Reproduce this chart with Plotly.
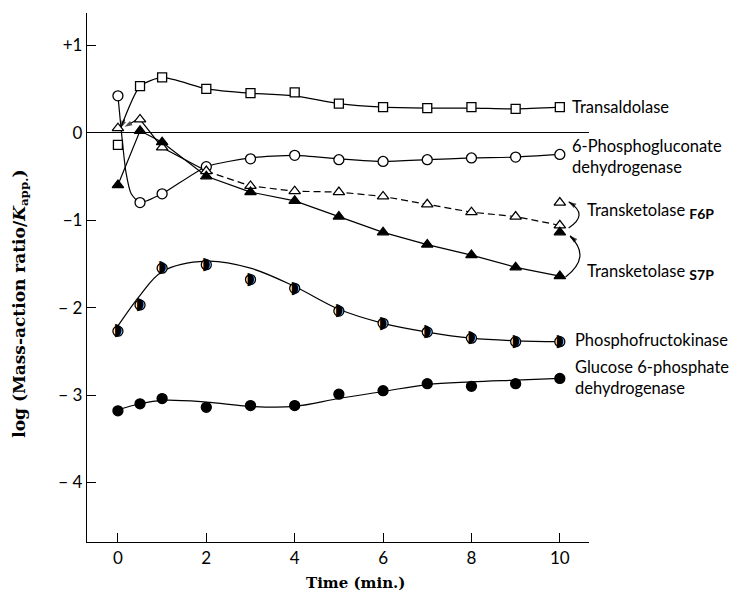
import plotly.graph_objects as go

# ---- data ----
time_min = [0, 0.5, 1, 2, 3, 4, 5, 6, 7, 8, 9, 10]

transaldolase = [-0.14, 0.53, 0.63, 0.50, 0.45, 0.46, 0.33, 0.29, 0.28, 0.29, 0.27, 0.29]
transaldolase_curve_t = [0.06, 0.5, 1, 2, 3, 4, 5, 6, 7, 8, 9, 10]
transaldolase_curve_y = [0.05, 0.53, 0.63, 0.50, 0.45, 0.42, 0.33, 0.29, 0.28, 0.28, 0.27, 0.29]

pgd = [0.42, -0.80, -0.70, -0.39, -0.30, -0.26, -0.31, -0.33, -0.31, -0.29, -0.28, -0.25]
pgd_curve_t = [0, 0.08, 0.18, 0.3, 0.5, 1, 2, 3, 4, 5, 6, 7, 8, 9, 10]
pgd_curve_y = [0.42, 0.0, -0.45, -0.70, -0.80, -0.70, -0.39, -0.29, -0.26, -0.30, -0.33, -0.31, -0.29, -0.28, -0.25]

tk_f6p = [0.05, 0.15, -0.17, -0.44, -0.61, -0.67, -0.68, -0.73, -0.82, -0.91, -0.96, -1.06]
tk_f6p_extra_t = [10]
tk_f6p_extra = [-0.80]

tk_s7p = [-0.60, 0.02, -0.11, -0.50, -0.68, -0.78, -0.96, -1.14, -1.28, -1.40, -1.54, -1.64]
tk_s7p_extra_t = [10]
tk_s7p_extra = [-1.14]

pfk = [-2.27, -1.97, -1.55, -1.51, -1.68, -1.78, -2.04, -2.18, -2.28, -2.35, -2.39, -2.39]
pfk_curve_y = [-2.21, -1.86, -1.59, -1.47, -1.55, -1.76, -2.02, -2.18, -2.28, -2.35, -2.38, -2.39]

g6pd = [-3.18, -3.10, -3.04, -3.14, -3.12, -3.12, -2.99, -2.95, -2.87, -2.90, -2.87, -2.81]
g6pd_curve_y = [-3.17, -3.10, -3.06, -3.08, -3.13, -3.13, -3.04, -2.96, -2.88, -2.85, -2.83, -2.81]

x_ticks = [0, 2, 4, 6, 8, 10]
y_ticks = [1, 0, -1, -2, -3, -4]
y_tick_text = ["+1", "0", "\u22121", "\u2212 2", "\u2212 3", "\u2212 4"]

labels = [
    ("Transaldolase", 10.24, 0.295),
    ("6-Phosphogluconate<br>dehydrogenase", 10.24, -0.275),
    ("Transketolase <sub><b><span style='font-size:14px'>F6P</span></b></sub>", 10.57, -0.90),
    ("Transketolase <sub><b><span style='font-size:14px'>S7P</span></b></sub>", 10.57, -1.59),
    ("Phosphofructokinase", 10.29, -2.37),
    ("Glucose 6-phosphate<br>dehydrogenase", 10.29, -2.80),
]

# arrow (tail_x, tail_y, head_x, head_y)
arrows = [
    (10.32, -0.83, 10.20, -0.79),
    (10.34, -1.23, 10.23, -1.18),
    (0.15, 0.15, 0.06, 0.05),
    (0.41, 0.14, 0.15, 0.066),
]

LW = 1.2
BLACK = "black"
SANS = "Lato"
SERIF = "DejaVu Serif"

fig = go.Figure()

def line(x, y, **kw):
    fig.add_trace(go.Scatter(x=x, y=y, mode="lines", line=dict(color=BLACK, width=LW, **kw),
                             showlegend=False, hoverinfo="skip"))

# ---- lines ----
line(transaldolase_curve_t, transaldolase_curve_y, shape="spline", smoothing=0.6)
line(pgd_curve_t, pgd_curve_y, shape="spline", smoothing=0.6)
line(time_min[1:4], tk_f6p[1:4])
line(time_min[3:], tk_f6p[3:], dash="7px,4px")
line(time_min, tk_s7p)
line(time_min, pfk_curve_y, shape="spline", smoothing=1.0)
line(time_min, g6pd_curve_y, shape="spline", smoothing=1.0)

# ---- curved arrows (right side) ----
fig.add_shape(type="path", xref="x", yref="y",
              path="M 10.20,-1.09 Q 10.66,-0.94 10.22,-0.80",
              line=dict(color=BLACK, width=LW))
fig.add_shape(type="path", xref="x", yref="y",
              path="M 10.13,-1.65 Q 10.72,-1.42 10.24,-1.19",
              line=dict(color=BLACK, width=LW))

for tx, ty, hx, hy in arrows:
    fig.add_trace(go.Scatter(x=[tx, hx], y=[ty, hy], mode="lines+markers",
                             line=dict(color=BLACK, width=LW),
                             marker=dict(symbol="arrow", size=[0, 8], color=BLACK,
                                         angleref="previous", line=dict(width=0)),
                             showlegend=False, hoverinfo="skip", cliponaxis=False))

# ---- markers ----
def mk(x, y, symbol, fill, size=9):
    fig.add_trace(go.Scatter(x=x, y=y, mode="markers",
                             marker=dict(symbol=symbol, size=size, color=fill,
                                         line=dict(color=BLACK, width=1.3)),
                             showlegend=False, cliponaxis=False))

mk(time_min, transaldolase, "square", "white", 9)
mk(time_min, pgd, "circle", "white", 10)
mk(time_min, tk_f6p, "triangle-up", "white", 10)
mk(tk_f6p_extra_t, tk_f6p_extra, "triangle-up", "white", 10)
mk(time_min, tk_s7p, "triangle-up", BLACK, 10)
mk(tk_s7p_extra_t, tk_s7p_extra, "triangle-up", BLACK, 10)
mk(time_min, g6pd, "circle", BLACK, 10)
# half-filled circles for phosphofructokinase
mk(time_min, pfk, "circle", "white", 10)
fig.add_trace(go.Scatter(x=time_min, y=pfk, mode="text", text=["\u25D7"] * len(pfk),
                         textposition="middle center",
                         textfont=dict(family="DejaVu Sans", size=17, color=BLACK),
                         showlegend=False, cliponaxis=False, hoverinfo="skip"))

# ---- labels ----
for txt, lx, ly in labels:
    fig.add_annotation(x=lx, y=ly, xref="x", yref="y", text=txt, showarrow=False,
                       xanchor="left", yanchor="middle", align="left",
                       font=dict(family=SANS, size=16.5, color=BLACK))

fig.add_annotation(x=0.535, y=-0.078, xref="paper", yref="paper", text="<b>Time (min.)</b>",
                   showarrow=False, xanchor="center", yanchor="middle",
                   font=dict(family=SERIF, size=15, color=BLACK))
fig.add_annotation(x=-0.132, y=0.45, xref="paper", yref="paper",
                   text="<b>log (Mass-action ratio/<i>K</i><sub>app.</sub>)</b>",
                   showarrow=False, textangle=-90, xanchor="center", yanchor="middle",
                   font=dict(family=SERIF, size=17, color=BLACK))

# page body has an 8px default margin, so the figure is 8px smaller
fig.update_layout(
    width=731, height=590, autosize=False,
    margin=dict(l=79, r=150, t=5, b=56, pad=0),
    paper_bgcolor="white", plot_bgcolor="white",
    showlegend=False,
    xaxis=dict(range=[-0.70, 10.66], tickvals=x_ticks, ticks="inside", ticklen=9,
               tickwidth=LW, tickcolor=BLACK, showline=True, linecolor=BLACK, linewidth=1.3,
               showgrid=False, zeroline=False, tickfont=dict(family=SANS, size=17, color=BLACK)),
    yaxis=dict(range=[-4.68, 1.367], tickvals=y_ticks, ticktext=y_tick_text, ticks="inside",
               ticklen=9, tickwidth=LW, tickcolor=BLACK, showline=True, linecolor=BLACK,
               linewidth=1.3, showgrid=False, zeroline=True, zerolinecolor=BLACK,
               zerolinewidth=1.2, tickfont=dict(family=SANS, size=17, color=BLACK)),
)

fig.write_html("out.html")
